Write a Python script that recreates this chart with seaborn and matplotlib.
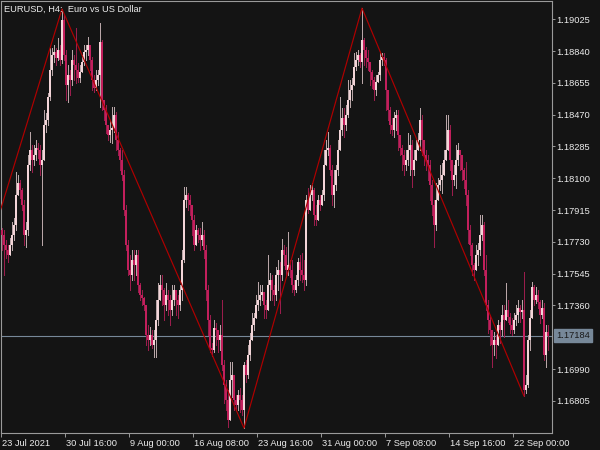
import matplotlib
matplotlib.use("Agg")
import matplotlib.pyplot as plt
import matplotlib.transforms as mtransforms
import numpy as np
import pandas as pd
import seaborn as sns

# ---------------- data (EURUSD H4) ----------------
open0 = 1.17799
close = [
    1.17770, 1.17712, 1.17682, 1.17653, 1.17712, 1.17770, 1.17828, 1.18002, 1.18072, 1.18032,
    1.17944, 1.17770, 1.17799, 1.18177, 1.18264, 1.18206, 1.18235, 1.18276, 1.18264, 1.18177,
    1.18206, 1.18410, 1.18439, 1.18573, 1.18730, 1.18817, 1.18834, 1.18800, 1.18846, 1.18788,
    1.19021, 1.18817, 1.18642, 1.18701, 1.18672, 1.18788, 1.18759, 1.18730, 1.18683, 1.18718,
    1.18776, 1.18834, 1.18846, 1.18875, 1.18788, 1.18672, 1.18625, 1.18672, 1.18701, 1.18893,
    1.18555, 1.18497, 1.18410, 1.18352, 1.18381, 1.18392, 1.18468, 1.18322, 1.18264, 1.18206,
    1.18119, 1.17915, 1.17712, 1.17566, 1.17537, 1.17624, 1.17595, 1.17653, 1.17479, 1.17421,
    1.17403, 1.17362, 1.17188, 1.17159, 1.17188, 1.17130, 1.17159, 1.17275, 1.17392, 1.17479,
    1.17450, 1.17362, 1.17421, 1.17392, 1.17333, 1.17392, 1.17450, 1.17392, 1.17362, 1.17450,
    1.17624, 1.17973, 1.18002, 1.17973, 1.17944, 1.17857, 1.17712, 1.17799, 1.17770, 1.17741,
    1.17770, 1.17682, 1.17450, 1.17275, 1.17112, 1.17101, 1.17229, 1.17217, 1.17159, 1.17188,
    1.17013, 1.16897, 1.16810, 1.16693, 1.16926, 1.16955, 1.16810, 1.16781, 1.16839, 1.16810,
    1.16752, 1.17013, 1.16955, 1.17072, 1.17159, 1.17246, 1.17287, 1.17362, 1.17392, 1.17421,
    1.17438, 1.17362, 1.17333, 1.17479, 1.17508, 1.17450, 1.17421, 1.17537, 1.17566, 1.17537,
    1.17682, 1.17653, 1.17566, 1.17595, 1.17566, 1.17479, 1.17450, 1.17508, 1.17613, 1.17566,
    1.17537, 1.17508, 1.17973, 1.17915, 1.18002, 1.18032, 1.17886, 1.17857, 1.17973, 1.17944,
    1.18002, 1.18177, 1.18264, 1.18276, 1.18148, 1.18002, 1.18061, 1.18148, 1.18264, 1.18381,
    1.18451, 1.18410, 1.18468, 1.18555, 1.18613, 1.18642, 1.18747, 1.18788, 1.18817, 1.18776,
    1.18904, 1.18846, 1.18800, 1.18776, 1.18718, 1.18672, 1.18613, 1.18660, 1.18701, 1.18788,
    1.18805, 1.18788, 1.18613, 1.18497, 1.18410, 1.18381, 1.18451, 1.18468, 1.18352, 1.18276,
    1.18235, 1.18177, 1.18206, 1.18264, 1.18293, 1.18148, 1.18206, 1.18264, 1.18322, 1.18439,
    1.18322, 1.18235, 1.18206, 1.18177, 1.18061, 1.17944, 1.17828, 1.17973, 1.18061, 1.18090,
    1.18119, 1.18206, 1.18264, 1.18381, 1.18206, 1.18090, 1.18119, 1.18206, 1.18264, 1.18235,
    1.18148, 1.18090, 1.18002, 1.17799, 1.17712, 1.17595, 1.17566, 1.17653, 1.17682, 1.17770,
    1.17828, 1.17566, 1.17362, 1.17275, 1.17217, 1.17130, 1.17159, 1.17130, 1.17246, 1.17217,
    1.17304, 1.17275, 1.17333, 1.17293, 1.17246, 1.17217, 1.17275, 1.17304, 1.17345, 1.17322,
    1.17333, 1.16868, 1.16897, 1.17159, 1.17287, 1.17467, 1.17392, 1.17421, 1.17380, 1.17304,
    1.17345, 1.17072, 1.17205, 1.17184,
]
high = [
    1.17810, 1.17799, 1.17741, 1.17712, 1.17752, 1.17845, 1.17869, 1.18136, 1.18119, 1.18090,
    1.18043, 1.17973, 1.17845, 1.18235, 1.18369, 1.18293, 1.18293, 1.18322, 1.18305, 1.18293,
    1.18264, 1.18497, 1.18480, 1.18596, 1.18858, 1.18858, 1.18875, 1.18858, 1.18916, 1.18875,
    1.19085, 1.19050, 1.18846, 1.18759, 1.18730, 1.18846, 1.18817, 1.18974, 1.18770, 1.18759,
    1.18817, 1.18875, 1.18875, 1.18922, 1.18846, 1.18805, 1.18701, 1.18730, 1.18730, 1.19003,
    1.18904, 1.18555, 1.18526, 1.18410, 1.18439, 1.18514, 1.18514, 1.18485, 1.18369, 1.18276,
    1.18264, 1.18148, 1.17944, 1.17741, 1.17653, 1.17682, 1.17682, 1.17682, 1.17682, 1.17491,
    1.17450, 1.17409, 1.17362, 1.17246, 1.17234, 1.17217, 1.17217, 1.17392, 1.17491, 1.17537,
    1.17537, 1.17461, 1.17491, 1.17450, 1.17421, 1.17479, 1.17479, 1.17450, 1.17421, 1.17479,
    1.17682, 1.18049, 1.18049, 1.18014, 1.18002, 1.17944, 1.17886, 1.17828, 1.17810, 1.17810,
    1.17845, 1.17799, 1.17712, 1.17479, 1.17304, 1.17141, 1.17275, 1.17258, 1.17217, 1.17246,
    1.17392, 1.17042, 1.16926, 1.16868, 1.17031, 1.17031, 1.16955, 1.16839, 1.16868, 1.16880,
    1.16839, 1.17031, 1.17042, 1.17130, 1.17200, 1.17316, 1.17316, 1.17421, 1.17496, 1.17479,
    1.17479, 1.17421, 1.17392, 1.17653, 1.17549, 1.17537, 1.17479, 1.17584, 1.17624, 1.17613,
    1.17746, 1.17712, 1.17700, 1.17787, 1.17624, 1.17624, 1.17508, 1.17537, 1.17636, 1.17653,
    1.17665, 1.17624, 1.18002, 1.18043, 1.18061, 1.18072, 1.18043, 1.17944, 1.18002, 1.18002,
    1.18032, 1.18264, 1.18322, 1.18369, 1.18293, 1.18177, 1.18148, 1.18177, 1.18322, 1.18573,
    1.18509, 1.18509, 1.18526, 1.18672, 1.18672, 1.18683, 1.18829, 1.18834, 1.18846, 1.18829,
    1.19090, 1.18916, 1.18864, 1.18846, 1.18776, 1.18730, 1.18689, 1.18701, 1.18718, 1.18829,
    1.18829, 1.18829, 1.18800, 1.18555, 1.18514, 1.18451, 1.18485, 1.18497, 1.18497, 1.18352,
    1.18293, 1.18264, 1.18264, 1.18363, 1.18352, 1.18322, 1.18264, 1.18322, 1.18363, 1.18509,
    1.18468, 1.18322, 1.18264, 1.18235, 1.18206, 1.18090, 1.17973, 1.18072, 1.18101, 1.18177,
    1.18189, 1.18264, 1.18468, 1.18468, 1.18410, 1.18189, 1.18177, 1.18293, 1.18305, 1.18264,
    1.18206, 1.18160, 1.18195, 1.18032, 1.17828, 1.17723, 1.17607, 1.17712, 1.17723, 1.17886,
    1.17886, 1.17845, 1.17653, 1.17392, 1.17304, 1.17217, 1.17205, 1.17188, 1.17275, 1.17264,
    1.17362, 1.17362, 1.17491, 1.17392, 1.17316, 1.17287, 1.17316, 1.17362, 1.17392, 1.17362,
    1.17392, 1.17555, 1.16955, 1.17188, 1.17333, 1.17496, 1.17479, 1.17467, 1.17450, 1.17392,
    1.17392, 1.17374, 1.17246, 1.17246,
]
low = [
    1.17682, 1.17537, 1.17636, 1.17613, 1.17653, 1.17682, 1.17741, 1.17799, 1.18002, 1.17985,
    1.17915, 1.17712, 1.17700, 1.17770, 1.18148, 1.18136, 1.18177, 1.18206, 1.18218, 1.18119,
    1.17712, 1.18206, 1.18369, 1.18410, 1.18555, 1.18701, 1.18776, 1.18759, 1.18788, 1.18759,
    1.18770, 1.18788, 1.18555, 1.18544, 1.18584, 1.18642, 1.18672, 1.18654, 1.18660, 1.18660,
    1.18718, 1.18759, 1.18788, 1.18817, 1.18730, 1.18613, 1.18602, 1.18613, 1.18642, 1.18514,
    1.18497, 1.18439, 1.18363, 1.18322, 1.18311, 1.18305, 1.18369, 1.18264, 1.18235, 1.18148,
    1.18090, 1.17886, 1.17682, 1.17537, 1.17450, 1.17508, 1.17508, 1.17537, 1.17438, 1.17392,
    1.17362, 1.17333, 1.17130, 1.17101, 1.17130, 1.17112, 1.17060, 1.17060, 1.17246, 1.17392,
    1.17362, 1.17275, 1.17333, 1.17304, 1.17246, 1.17304, 1.17362, 1.17304, 1.17287, 1.17333,
    1.17392, 1.17613, 1.17933, 1.17915, 1.17886, 1.17770, 1.17682, 1.17712, 1.17729, 1.17682,
    1.17712, 1.17636, 1.17392, 1.17188, 1.17089, 1.17066, 1.17089, 1.17130, 1.17089, 1.17101,
    1.16984, 1.16792, 1.16752, 1.16653, 1.16781, 1.16827, 1.16752, 1.16752, 1.16752, 1.16740,
    1.16722, 1.16647, 1.16915, 1.16938, 1.17042, 1.17159, 1.17217, 1.17287, 1.17333, 1.17362,
    1.17392, 1.17287, 1.17287, 1.17333, 1.17392, 1.17392, 1.17362, 1.17392, 1.17450, 1.17316,
    1.17508, 1.17595, 1.17525, 1.17537, 1.17525, 1.17438, 1.17421, 1.17438, 1.17479, 1.17508,
    1.17496, 1.17450, 1.17479, 1.17898, 1.17944, 1.17973, 1.17828, 1.17828, 1.17886, 1.17915,
    1.17944, 1.17973, 1.18177, 1.18235, 1.18119, 1.17944, 1.17933, 1.18032, 1.18119, 1.18264,
    1.18352, 1.18340, 1.18381, 1.18456, 1.18514, 1.18555, 1.18642, 1.18730, 1.18759, 1.18747,
    1.18654, 1.18759, 1.18747, 1.18730, 1.18642, 1.18625, 1.18555, 1.18584, 1.18660, 1.18672,
    1.18759, 1.18759, 1.18497, 1.18439, 1.18363, 1.18352, 1.18340, 1.18381, 1.18264, 1.18235,
    1.18148, 1.18119, 1.18148, 1.18177, 1.18119, 1.18049, 1.18119, 1.18206, 1.18264, 1.18264,
    1.18235, 1.18177, 1.18148, 1.18090, 1.17973, 1.17886, 1.17700, 1.17799, 1.18002, 1.18032,
    1.18014, 1.18119, 1.18206, 1.18264, 1.18148, 1.18002, 1.18061, 1.18043, 1.18177, 1.18148,
    1.18090, 1.18043, 1.17944, 1.17723, 1.17653, 1.17537, 1.17508, 1.17566, 1.17595, 1.17653,
    1.17741, 1.17537, 1.17333, 1.17200, 1.17130, 1.17002, 1.17072, 1.17054, 1.17130, 1.17141,
    1.17188, 1.17176, 1.17275, 1.17264, 1.17200, 1.17188, 1.17200, 1.17246, 1.17264, 1.17264,
    1.17287, 1.16833, 1.16851, 1.16885, 1.17101, 1.17287, 1.17362, 1.17374, 1.17345, 1.17258,
    1.17287, 1.17042, 1.17002, 1.17101,
]
# ZigZag pivots (bar index, price); the first one lies left of the visible range
zz_index = [-12, 30, 121, 180, 261]
zz_price = [1.17488, 1.19085, 1.16647, 1.19090, 1.16833]

date_tick_index = [0, 32, 64, 96, 128, 160, 192, 224, 256]
date_tick_labels = ["23 Jul 2021", "30 Jul 16:00", "9 Aug 00:00", "16 Aug 08:00",
                    "23 Aug 16:00", "31 Aug 00:00", "7 Sep 08:00", "14 Sep 16:00",
                    "22 Sep 00:00"]
price_ticks = [1.19025, 1.18840, 1.18655, 1.18470, 1.18285, 1.18100, 1.17915,
               1.17730, 1.17545, 1.17360, 1.16990, 1.16805]
last_price = 1.17184
title_text = "EURUSD, H4:  Euro vs US Dollar"

# ---------------- styling ----------------
BG = "#141414"
BULL = "#f3d5d8"
BEAR = "#c21f5c"
BULL_WICK = "#b9a6a8"
BEAR_WICK = "#9a1d4c"
ZZ = "#b00000"
FRAME = "#9a9a9a"
TXT = "#ececec"
LINE = "#778899"

sns.set_theme(style="dark", rc={
    "axes.facecolor": BG, "figure.facecolor": BG,
    "axes.edgecolor": FRAME, "axes.grid": False,
})
plt.rcParams["font.family"] = ["Liberation Sans", "DejaVu Sans"]
FS = 6.7

n = len(close)
opens = [open0] + close[:-1]
df = pd.DataFrame({"idx": np.arange(n), "open": opens, "close": close,
                   "high": high, "low": low})
df["hi"] = df[["high", "open", "close"]].max(axis=1)
df["lo"] = df[["low", "open", "close"]].min(axis=1)
df["bull"] = df["close"] >= df["open"]

fig = plt.figure(figsize=(6, 4.5), dpi=100)
ax = fig.add_axes([1 / 600, (450 - 433.3) / 450, 551.3 / 600, 432 / 450])
ax.set_facecolor(BG)

ymin, ymax = 1.166165, 1.191297
px = (ymax - ymin) / 432.0

# wicks
for is_bull, wc in ((True, BULL_WICK), (False, BEAR_WICK)):
    d = df[df["bull"] == is_bull]
    ax.vlines(d["idx"], d["lo"], d["hi"], color=wc, lw=0.72, antialiased=False, zorder=2)
# bodies
for is_bull, bc in ((True, BULL), (False, BEAR)):
    d = df[df["bull"] == is_bull]
    h = (d["close"] - d["open"]).abs().clip(lower=px)
    b = d[["open", "close"]].min(axis=1)
    ax.bar(d["idx"], h, bottom=b, width=0.6, color=bc, linewidth=0,
           antialiased=False, zorder=3)

# zigzag
zz = pd.DataFrame({"idx": zz_index, "price": zz_price})
sns.lineplot(data=zz, x="idx", y="price", sort=False, estimator=None,
             color=ZZ, lw=0.85, ax=ax, zorder=4)

# last price line
ax.axhline(last_price, color=LINE, lw=0.8, zorder=1)

ax.set_xlim(-0.5, 275.15)
ax.set_ylim(ymin, ymax)
ax.set_xlabel("")
ax.set_ylabel("")

for s in ax.spines.values():
    s.set_color(FRAME)
    s.set_linewidth(0.8)

ax.yaxis.tick_right()
ax.set_yticks(price_ticks)
ax.set_yticklabels([f"{v:.5f}" for v in price_ticks])
ax.tick_params(axis="y", which="both", left=False, right=True, length=2.2, width=0.7,
               color=FRAME, labelcolor=TXT, labelsize=FS, pad=1.0)

ax.set_xticks([i - 0.5 for i in date_tick_index])
ax.set_xticklabels(date_tick_labels)
ax.tick_params(axis="x", which="both", bottom=True, top=False, length=3, width=0.7,
               color=FRAME, labelcolor=TXT, labelsize=FS, pad=0.8)
offset = mtransforms.ScaledTranslation(1.5 / 100, 0, fig.dpi_scale_trans)
for lab in ax.get_xticklabels():
    lab.set_horizontalalignment("left")
    lab.set_transform(lab.get_transform() + offset)

# price label box
trans = mtransforms.blended_transform_factory(ax.transAxes, ax.transData)
ax.text(1.0 + 4.0 / 551.3, last_price, f"{last_price:.5f}", transform=trans,
        ha="left", va="center", fontsize=FS, color="#1a1a1a", clip_on=False,
        bbox=dict(boxstyle="square,pad=0.22", facecolor=LINE, edgecolor=LINE))

# title
fig.text(4 / 600, 1 - 9 / 450, title_text, ha="left", va="center",
         fontsize=FS, color=TXT)

fig.savefig("out.png", dpi=100, facecolor=BG)
